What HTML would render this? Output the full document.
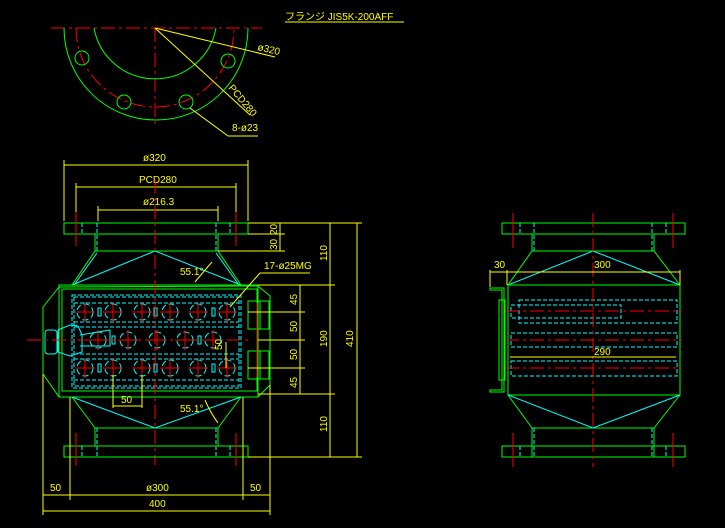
<!DOCTYPE html>
<html><head><meta charset="utf-8"><style>
html,body{margin:0;padding:0;background:#000;width:725px;height:528px;overflow:hidden}
svg{display:block}
text{font-family:"Liberation Sans","Noto Sans CJK JP",sans-serif;fill:#ffff00;font-size:10px}
.g{stroke:#00ff00;fill:none;stroke-width:1}
.c{stroke:#00ffff;fill:none;stroke-width:1}
.cd{stroke:#00ffff;fill:none;stroke-width:1;stroke-dasharray:4 2}
.ch{stroke:#00ffff;fill:none;stroke-width:1;stroke-dasharray:6 3}
.r{stroke:#ff0000;fill:none;stroke-width:1}
.rd{stroke:#ff0000;fill:none;stroke-width:1;stroke-dasharray:14 4 3 4}
.y{stroke:#ffff00;fill:none;stroke-width:1}
</style></head><body>
<svg width="725" height="528" viewBox="0 0 725 528" xmlns="http://www.w3.org/2000/svg">
<defs>
<g id="hole"><circle r="8" class="ch"/><line x1="-10" y1="0" x2="10" y2="0" class="r"/><line x1="0" y1="-10" x2="0" y2="10" class="r"/></g>
</defs>
<text x="285" y="20">フランジ  JIS5K-200AFF</text>
<line x1="285" y1="22" x2="404" y2="22" class="y"/>
<line x1="51" y1="28" x2="262" y2="28" class="rd"/>
<line x1="155" y1="28" x2="155" y2="128" class="rd"/>
<path d="M64 28 A92 92 0 0 0 248 28" class="g"/>
<path d="M94 28 A62 62 0 0 0 216 28" class="g"/>
<path d="M76 28 A79 79 0 0 0 234 28" class="rd"/>
<circle cx="82" cy="58" r="7" class="g"/><circle cx="124" cy="102" r="7" class="g"/>
<circle cx="186" cy="102" r="7" class="g"/><circle cx="228" cy="61" r="7" class="g"/>
<line x1="155" y1="28" x2="275" y2="57" class="y"/>
<text x="257" y="50" transform="rotate(13 257 50)">ø320</text>
<line x1="155" y1="28" x2="250" y2="115" class="y"/>
<text x="228" y="88" transform="rotate(50 228 88)">PCD280</text>
<line x1="190" y1="108" x2="228" y2="136" class="y"/><line x1="228" y1="136" x2="258" y2="136" class="y"/>
<text x="232" y="131">8-ø23</text>
<line x1="64" y1="165" x2="248" y2="165" class="y"/><line x1="64" y1="160" x2="64" y2="221" class="y"/><line x1="248" y1="160" x2="248" y2="221" class="y"/>
<text x="143" y="161">ø320</text>
<line x1="76" y1="187" x2="236" y2="187" class="y"/><line x1="76" y1="183" x2="76" y2="215" class="y"/><line x1="236" y1="183" x2="236" y2="215" class="y"/>
<text x="139" y="183">PCD280</text>
<line x1="98" y1="210" x2="218" y2="210" class="y"/><line x1="98" y1="206" x2="98" y2="221" class="y"/><line x1="218" y1="206" x2="218" y2="221" class="y"/>
<text x="143" y="205">ø216.3</text>
<rect x="64" y="223" width="184" height="11" class="g"/>
<line x1="95" y1="234" x2="95" y2="251" class="g"/><line x1="218" y1="234" x2="218" y2="251" class="g"/>
<line x1="95" y1="251" x2="218" y2="251" class="g"/>
<line x1="97" y1="223" x2="97" y2="251" class="cd"/><line x1="216" y1="223" x2="216" y2="251" class="cd"/>
<line x1="82" y1="223" x2="82" y2="234" class="cd"/><line x1="230" y1="223" x2="230" y2="234" class="cd"/>
<line x1="76" y1="212" x2="76" y2="246" class="r"/><line x1="236" y1="212" x2="236" y2="246" class="r"/>
<path d="M95 251 L72 285 M218 251 L241 285" class="g"/>
<path d="M97 253 L74 285 M216 253 L239 285 M72 285 L155 251 L241 285" class="c"/>
<path d="M59 287 L43 307 L43 374 L59 397 L258 397 L270 385 L270 296 L258 286 Z" class="g"/>
<rect x="59" y="285" width="199" height="112" class="g"/>
<rect x="62" y="289" width="195" height="102" class="g"/>
<rect x="72" y="295" width="169" height="93" class="cd"/>
<rect x="74" y="297" width="165" height="89" class="cd"/>
<line x1="74" y1="303" x2="239" y2="303" class="cd"/>
<line x1="74" y1="322" x2="239" y2="322" class="cd"/><line x1="74" y1="327" x2="239" y2="327" class="cd"/>
<line x1="74" y1="354" x2="239" y2="354" class="cd"/><line x1="74" y1="359" x2="239" y2="359" class="cd"/>
<line x1="74" y1="380" x2="239" y2="380" class="cd"/>
<g><use href="#hole" x="85" y="312"/><use href="#hole" x="113" y="312"/><use href="#hole" x="142" y="312"/><use href="#hole" x="170" y="312"/><use href="#hole" x="198" y="312"/><use href="#hole" x="227" y="312"/>
<use href="#hole" x="98" y="340"/><use href="#hole" x="128" y="340"/><use href="#hole" x="157" y="340"/><use href="#hole" x="185" y="340"/><use href="#hole" x="213" y="340"/>
<use href="#hole" x="85" y="368"/><use href="#hole" x="113" y="368"/><use href="#hole" x="142" y="368"/><use href="#hole" x="170" y="368"/><use href="#hole" x="198" y="368"/><use href="#hole" x="227" y="368"/></g>
<rect x="98" y="308" width="3" height="8" class="c"/><rect x="154" y="308" width="3" height="8" class="c"/><rect x="212" y="308" width="3" height="8" class="c"/>
<rect x="98" y="364" width="3" height="8" class="c"/><rect x="154" y="364" width="3" height="8" class="c"/><rect x="212" y="364" width="3" height="8" class="c"/>
<rect x="112" y="336" width="3" height="8" class="c"/><rect x="198" y="336" width="3" height="8" class="c"/>
<rect x="45" y="330" width="12" height="24" rx="3" class="c"/>
<path d="M58 330 L70 325 L78 326 L82 335 L82 352 L70 356 L58 352 Z" class="c"/>
<path d="M80 335 L110 330 L110 346 L80 346" class="c"/>
<line x1="27" y1="340" x2="250" y2="340" class="rd"/>
<rect x="248" y="301" width="21" height="28" class="g"/><rect x="248" y="351" width="21" height="28" class="g"/>
<line x1="260" y1="301" x2="260" y2="329" class="g"/><line x1="260" y1="351" x2="260" y2="379" class="g"/>
<line x1="257" y1="303" x2="257" y2="377" class="r"/>
<line x1="155" y1="180" x2="155" y2="465" class="rd"/>
<path d="M72 397 L95 428 M241 397 L218 428 M95 428 L218 428" class="g"/>
<path d="M72 397 L155 428 L241 397" class="c"/>
<line x1="95" y1="428" x2="95" y2="446" class="g"/><line x1="218" y1="428" x2="218" y2="446" class="g"/>
<line x1="97" y1="428" x2="97" y2="457" class="cd"/><line x1="216" y1="428" x2="216" y2="457" class="cd"/>
<rect x="64" y="446" width="184" height="11" class="g"/>
<line x1="82" y1="446" x2="82" y2="457" class="cd"/><line x1="230" y1="446" x2="230" y2="457" class="cd"/>
<line x1="76" y1="433" x2="76" y2="466" class="r"/><line x1="236" y1="433" x2="236" y2="466" class="r"/>
<text x="180" y="275">55.1°</text><text x="180" y="412">55.1°</text>
<path d="M195 282 Q205 270 212 262" class="y"/><path d="M205 400 Q210 412 218 423" class="y"/>
<text x="264" y="269">17-ø25MG</text><line x1="260" y1="273" x2="310" y2="273" class="y"/><line x1="260" y1="273" x2="230" y2="307" class="y"/>
<line x1="113" y1="375" x2="113" y2="408" class="y"/><line x1="142" y1="375" x2="142" y2="408" class="y"/><line x1="113" y1="406" x2="142" y2="406" class="y"/><text x="121" y="403">50</text>
<line x1="226" y1="342" x2="226" y2="368" class="y"/><text x="222" y="350" transform="rotate(-90 222 350)" font-size="9">50</text>
<line x1="248" y1="223" x2="362" y2="223" class="y"/><line x1="218" y1="251" x2="285" y2="251" class="y"/><line x1="248" y1="234" x2="285" y2="234" class="y"/>
<line x1="280" y1="223" x2="280" y2="251" class="y"/>
<text x="277" y="250" transform="rotate(-90 277 250)" font-size="9">30</text><text x="277" y="235" transform="rotate(-90 277 235)" font-size="9">20</text>
<line x1="258" y1="285" x2="335" y2="285" class="y"/><line x1="258" y1="394" x2="335" y2="394" class="y"/>
<line x1="248" y1="312" x2="305" y2="312" class="y"/><line x1="258" y1="340" x2="305" y2="340" class="y"/><line x1="248" y1="368" x2="305" y2="368" class="y"/>
<line x1="300" y1="285" x2="300" y2="394" class="y"/>
<text x="297" y="305" transform="rotate(-90 297 305)">45</text><text x="297" y="332" transform="rotate(-90 297 332)">50</text><text x="297" y="360" transform="rotate(-90 297 360)">50</text><text x="297" y="388" transform="rotate(-90 297 388)">45</text>
<line x1="330" y1="223" x2="330" y2="457" class="y"/>
<text x="327" y="261" transform="rotate(-90 327 261)">110</text><text x="327" y="347" transform="rotate(-90 327 347)">190</text><text x="327" y="432" transform="rotate(-90 327 432)">110</text>
<line x1="248" y1="457" x2="362" y2="457" class="y"/>
<line x1="357" y1="223" x2="357" y2="457" class="y"/><text x="353" y="347" transform="rotate(-90 353 347)">410</text>
<line x1="43" y1="374" x2="43" y2="515" class="y"/><line x1="270" y1="385" x2="270" y2="515" class="y"/>
<line x1="70" y1="397" x2="70" y2="500" class="y"/><line x1="243" y1="397" x2="243" y2="500" class="y"/>
<line x1="43" y1="495" x2="270" y2="495" class="y"/><line x1="43" y1="511" x2="270" y2="511" class="y"/>
<text x="50" y="491">50</text><text x="146" y="491">ø300</text><text x="250" y="491">50</text><text x="149" y="507">400</text>
<rect x="502" y="223" width="183" height="11" class="g"/>
<line x1="532" y1="234" x2="532" y2="251" class="g"/><line x1="654" y1="234" x2="654" y2="251" class="g"/><line x1="532" y1="251" x2="654" y2="251" class="g"/>
<line x1="534" y1="223" x2="534" y2="251" class="cd"/><line x1="652" y1="223" x2="652" y2="251" class="cd"/>
<line x1="520" y1="223" x2="520" y2="234" class="cd"/><line x1="666" y1="223" x2="666" y2="234" class="cd"/>
<line x1="513" y1="213" x2="513" y2="248" class="r"/><line x1="673" y1="213" x2="673" y2="248" class="r"/>
<path d="M532 251 L508 285 M654 251 L680 285" class="g"/>
<path d="M508 285 L593 251 L680 285" class="c"/>
<rect x="508" y="285" width="172" height="110" class="g"/>
<rect x="519" y="300" width="158" height="23" class="cd"/><rect x="511" y="305" width="110" height="13" class="cd"/>
<rect x="511" y="333" width="166" height="14" class="cd"/><rect x="511" y="361" width="166" height="15" class="cd"/>
<line x1="505" y1="311" x2="682" y2="311" class="rd"/><line x1="505" y1="340" x2="682" y2="340" class="rd"/><line x1="505" y1="368" x2="682" y2="368" class="rd"/>
<path d="M490 288 L504 288 L504 392 L490 392 L490 390 L502 390 L502 290 L490 290 Z" class="g"/>
<rect x="499" y="300" width="6" height="80" class="g"/>
<path d="M508 395 L532 428 M680 395 L654 428 M532 428 L654 428" class="g"/>
<path d="M508 395 L593 428 L680 395" class="c"/>
<line x1="532" y1="428" x2="532" y2="457" class="g"/><line x1="654" y1="428" x2="654" y2="457" class="g"/>
<line x1="534" y1="428" x2="534" y2="457" class="cd"/><line x1="652" y1="428" x2="652" y2="457" class="cd"/>
<rect x="502" y="446" width="183" height="11" class="g"/>
<line x1="520" y1="446" x2="520" y2="457" class="cd"/><line x1="666" y1="446" x2="666" y2="457" class="cd"/>
<line x1="513" y1="433" x2="513" y2="467" class="r"/><line x1="673" y1="433" x2="673" y2="467" class="r"/>
<line x1="593" y1="213" x2="593" y2="467" class="rd"/>
<line x1="490" y1="272" x2="680" y2="272" class="y"/><line x1="490" y1="270" x2="490" y2="287" class="y"/><line x1="507" y1="270" x2="507" y2="285" class="y"/><line x1="680" y1="270" x2="680" y2="285" class="y"/>
<text x="494" y="268">30</text><text x="594" y="268">300</text>
<line x1="510" y1="357" x2="676" y2="357" class="y"/><text x="594" y="355">290</text>
</svg>
</body></html>
